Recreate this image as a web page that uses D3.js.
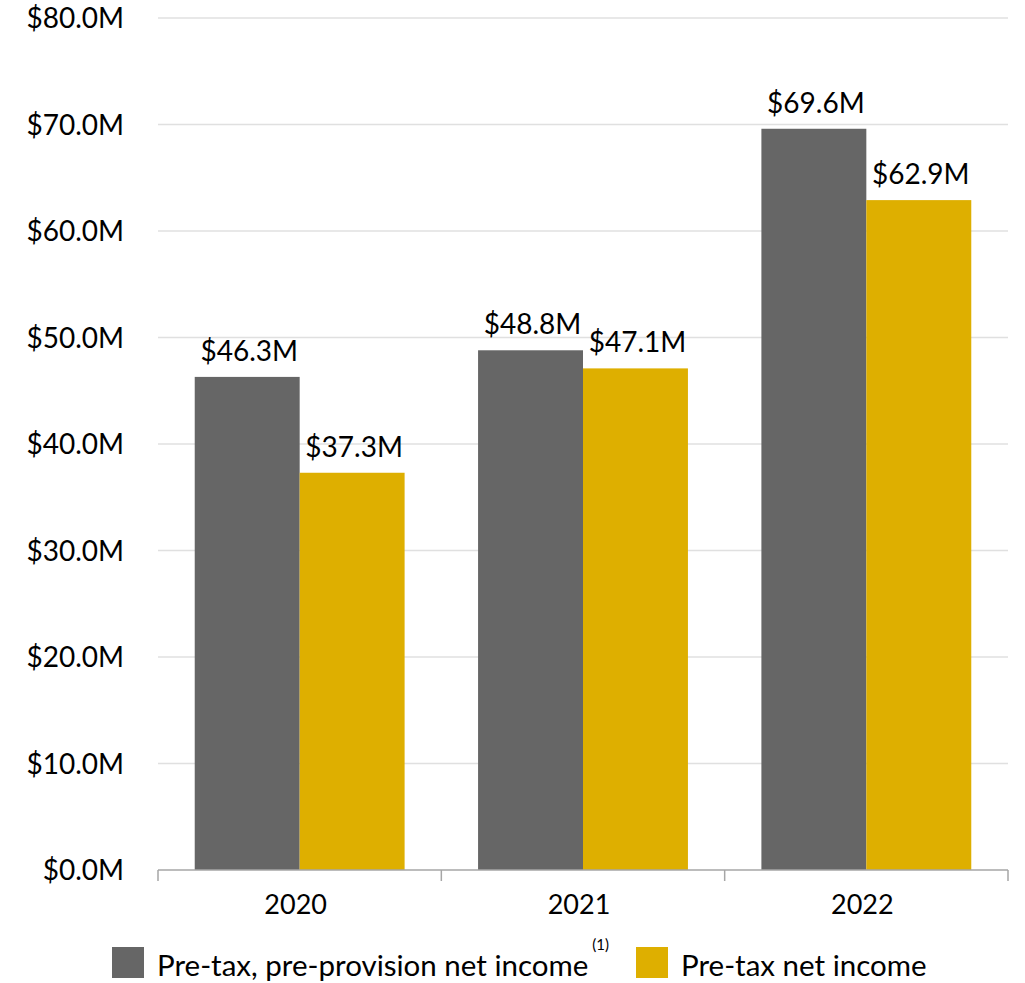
<!DOCTYPE html>
<html>
<head>
<meta charset="utf-8">
<script src="https://cdn.jsdelivr.net/npm/d3@7"></script>
<style>
  html, body { margin: 0; padding: 0; background: #fff; }
  svg { display: block; font-family: Lato, "Open Sans", sans-serif; }
</style>
</head>
<body>
<svg id="chart" width="1025" height="983"></svg>
<script>
// Chart data
const years = ["2020", "2021", "2022"];
const seriesNames = ["Pre-tax, pre-provision net income", "Pre-tax net income"];
const pptnIncome = [46.3, 48.8, 69.6];
const pretaxIncome = [37.3, 47.1, 62.9];
const yTicks = [0, 10, 20, 30, 40, 50, 60, 70, 80];
const colors = ["#666666", "#DEAF00"];

const svg = d3.select("#chart");
const margin = { left: 158, right: 1008, top: 18, bottom: 870 };

const x = d3.scaleBand().domain(years).range([margin.left, margin.right]).paddingInner(0).paddingOuter(0);
const x1 = d3.scaleBand().domain([0, 1]).range([0, x.bandwidth()]).paddingOuter(0.35).paddingInner(0);
const y = d3.scaleLinear().domain([0, 80]).range([margin.bottom, margin.top]);

// Horizontal gridlines
svg.append("g")
  .selectAll("line")
  .data(yTicks.filter(d => d > 0))
  .join("line")
  .attr("x1", margin.left).attr("x2", margin.right)
  .attr("y1", d => y(d)).attr("y2", d => y(d))
  .attr("stroke", "#e0e0e0").attr("stroke-width", 1.5);

// Y axis labels
const yAxis = d3.axisLeft(y).tickValues(yTicks).tickSize(0).tickPadding(34)
  .tickFormat(d => "$" + d.toFixed(1) + "M");
svg.append("g")
  .attr("transform", `translate(${margin.left},0)`)
  .call(yAxis)
  .call(g => g.select(".domain").remove())
  .call(g => g.selectAll("text").attr("font-size", 28).attr("fill", "#000")
        .attr("font-family", "Lato, sans-serif").attr("dy", "0.35em"));

// Bars
const rows = years.map((yr, i) => ({ year: yr, values: [pptnIncome[i], pretaxIncome[i]] }));
const groups = svg.append("g").selectAll("g")
  .data(rows).join("g")
  .attr("transform", d => `translate(${x(d.year)},0)`);

groups.selectAll("rect")
  .data(d => d.values.map((v, k) => ({ v, k })))
  .join("rect")
  .attr("x", d => x1(d.k))
  .attr("width", x1.bandwidth())
  .attr("y", d => y(d.v))
  .attr("height", d => y(0) - y(d.v))
  .attr("fill", d => colors[d.k]);

groups.selectAll("text.val")
  .data(d => d.values.map((v, k) => ({ v, k })))
  .join("text")
  .attr("class", "val")
  .attr("x", d => x1(d.k) + x1.bandwidth() / 2 + 2)
  .attr("y", d => y(d.v) - 16)
  .attr("text-anchor", "middle")
  .attr("font-size", 28)
  .attr("fill", "#000")
  .text(d => "$" + d.v.toFixed(1) + "M");

// X axis
const xAxisG = svg.append("g").attr("transform", `translate(0,${margin.bottom})`);
xAxisG.append("line")
  .attr("x1", margin.left).attr("x2", margin.right)
  .attr("stroke", "#a6a6a6").attr("stroke-width", 1.5);
const boundaries = years.map(d => x(d)).concat([x(years[years.length - 1]) + x.bandwidth()]);
xAxisG.selectAll("line.tick")
  .data(boundaries).join("line")
  .attr("class", "tick")
  .attr("x1", d => d).attr("x2", d => d)
  .attr("y1", 0).attr("y2", 11)
  .attr("stroke", "#a6a6a6").attr("stroke-width", 1.5);
xAxisG.selectAll("text")
  .data(years).join("text")
  .attr("x", d => x(d) + x.bandwidth() / 2 - 4)
  .attr("y", 44)
  .attr("text-anchor", "middle")
  .attr("font-size", 27)
  .attr("fill", "#000")
  .text(d => d);

// Legend
const legend = svg.append("g");
const legendItems = [
  { name: seriesNames[0], color: colors[0], x: 112, note: "(1)" },
  { name: seriesNames[1], color: colors[1], x: 636, note: null }
];
legendItems.forEach(item => {
  legend.append("rect")
    .attr("x", item.x).attr("y", 947)
    .attr("width", 32).attr("height", 31)
    .attr("fill", item.color);
  const t = legend.append("text")
    .attr("x", item.x + 45).attr("y", 976)
    .attr("font-size", 29.5).attr("fill", "#000")
    .text(item.name);
  if (item.note) {
    const w = t.node().getComputedTextLength();
    legend.append("text")
      .attr("x", item.x + 45 + w + 4).attr("y", 950)
      .attr("font-size", 15).attr("fill", "#000")
      .text(item.note);
  }
});
</script>
</body>
</html>
